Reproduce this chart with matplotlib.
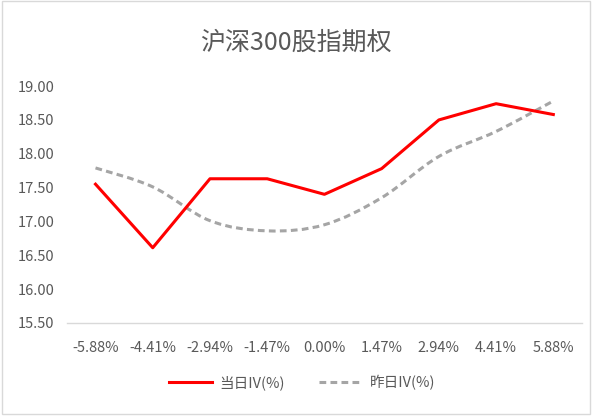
import numpy as np
import matplotlib.pyplot as plt
from matplotlib.path import Path
from matplotlib.patches import PathPatch, Rectangle
from matplotlib.lines import Line2D

plt.rcParams['font.family'] = ['Noto Sans CJK SC', 'DejaVu Sans']

# données
categories = ['-5.88%', '-4.41%', '-2.94%', '-1.47%', '0.00%', '1.47%', '2.94%', '4.41%', '5.88%']
iv_today = [17.55, 16.61, 17.63, 17.63, 17.40, 17.78, 18.50, 18.74, 18.58]
iv_yesterday = [17.79, 17.51, 17.01, 16.86, 16.95, 17.35, 17.96, 18.33, 18.78]
yticks = [15.50, 16.00, 16.50, 17.00, 17.50, 18.00, 18.50, 19.00]

TEXT = '#595959'
RED = '#ff0000'
GRAY = '#a5a5a5'


def smooth_path(xs, ys, t=1/6):
    # courbe lissée façon Excel (Bezier cubique type Catmull-Rom)
    pts = np.column_stack([xs, ys]).astype(float)
    n = len(pts)
    verts = [pts[0]]
    codes = [Path.MOVETO]
    for i in range(n - 1):
        p0 = pts[i - 1] if i > 0 else pts[i]
        p1 = pts[i]
        p2 = pts[i + 1]
        p3 = pts[i + 2] if i + 2 < n else pts[i + 1]
        c1 = p1 + (p2 - p0) * t
        c2 = p2 - (p3 - p1) * t
        verts += [c1, c2, p2]
        codes += [Path.CURVE4] * 3
    return Path(verts, codes)


fig = plt.figure(figsize=(5.92, 4.16), dpi=100)
ax = fig.add_axes([0.113, 0.224, 0.870, 0.569])

x = np.arange(len(categories))
ax.plot(x, iv_today, color=RED, linewidth=2.2, solid_joinstyle='round')

patch = PathPatch(smooth_path(x, iv_yesterday), facecolor='none', edgecolor=GRAY,
                  linewidth=2.2, linestyle=(0, (2.2, 1.4)))
ax.add_patch(patch)

ax.set_xlim(-0.5, len(categories) - 0.5)
ax.set_ylim(15.5, 19.0)
ax.set_xticks(x)
ax.set_xticklabels(categories)
ax.set_yticks(yticks)
ax.set_yticklabels([f'{v:.2f}' for v in yticks])
ax.tick_params(axis='both', length=0, labelsize=10.5, colors=TEXT)
ax.tick_params(axis='x', pad=13)
ax.tick_params(axis='y', pad=9)

for s in ['top', 'right', 'left']:
    ax.spines[s].set_visible(False)
ax.spines['bottom'].set_color('#d9d9d9')
ax.spines['bottom'].set_linewidth(1)

fig.text(0.5, 0.898, '沪深300股指期权', ha='center', va='center', fontsize=18, color=TEXT)

handles = [Line2D([0], [0], color=RED, linewidth=2.2),
           Line2D([0], [0], color=GRAY, linewidth=2.2, linestyle=(0, (2.2, 1.4)))]
fig.legend(handles, ['当日IV(%)', '昨日IV(%)'], loc='center', bbox_to_anchor=(0.51, 0.08),
           ncol=2, frameon=False, fontsize=10.5, labelcolor=TEXT, handlelength=3.0,
           columnspacing=2.3, handletextpad=0.5)

fig.add_artist(Rectangle((0.004, 0.006), 0.992, 0.992, transform=fig.transFigure,
                         fill=False, edgecolor='#d9d9d9', linewidth=1))

fig.savefig('out.png', dpi=100)
